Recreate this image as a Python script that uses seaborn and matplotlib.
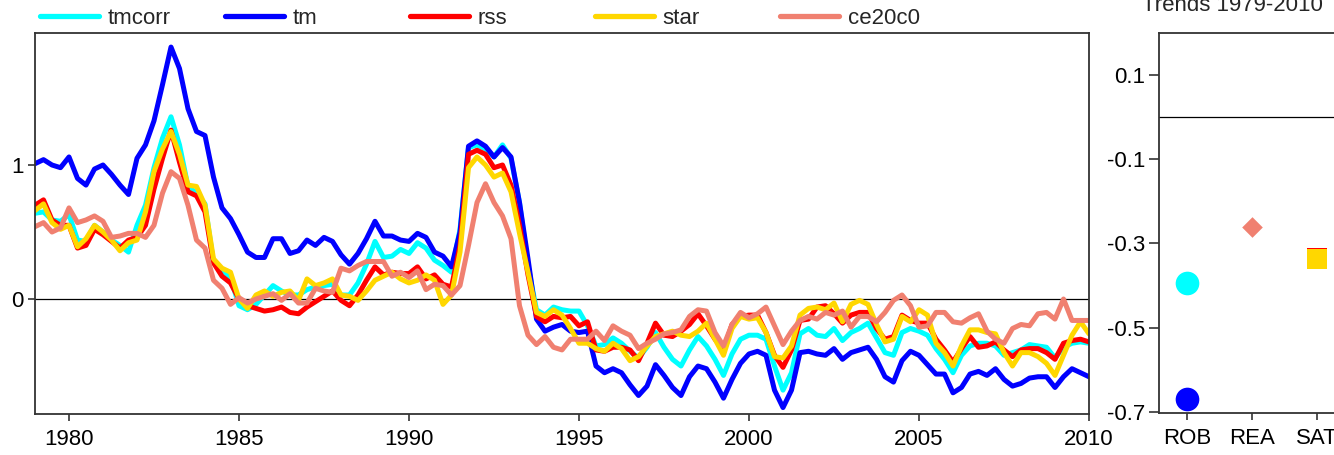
import numpy as np
import pandas as pd
import matplotlib
matplotlib.use('Agg')
import matplotlib.pyplot as plt
import seaborn as sns
from matplotlib.lines import Line2D

# quarterly time axis 1979.0 .. 2010.0
years = 1979 + 0.25 * np.arange(125)

tmcorr = [0.64, 0.65, 0.59, 0.58, 0.63, 0.44, 0.43, 0.55, 0.50, 0.44, 0.40, 0.35,
          0.55, 0.70, 0.98, 1.20, 1.36, 1.15, 0.84, 0.79, 0.71, 0.27, 0.22, 0.16,
          -0.05, -0.08, -0.04, 0.03, 0.10, 0.06, 0.03, 0.03, 0.07, 0.09, 0.10, 0.11,
          0.03, 0.03, 0.12, 0.26, 0.43, 0.31, 0.32, 0.37, 0.34, 0.42, 0.38, 0.29,
          0.25, 0.20, 0.52, 1.13, 1.15, 1.12, 1.06, 1.15, 1.05, 0.72, 0.25, -0.08,
          -0.12, -0.06, -0.08, -0.09, -0.09, -0.20, -0.35, -0.34, -0.29, -0.33, -0.39, -0.44,
          -0.36, -0.25, -0.36, -0.45, -0.50, -0.38, -0.28, -0.35, -0.45, -0.57, -0.41, -0.30,
          -0.27, -0.27, -0.30, -0.50, -0.68, -0.55, -0.26, -0.22, -0.27, -0.28, -0.22, -0.31,
          -0.25, -0.22, -0.18, -0.29, -0.40, -0.42, -0.25, -0.22, -0.24, -0.27, -0.37, -0.45,
          -0.55, -0.42, -0.35, -0.33, -0.33, -0.35, -0.42, -0.40, -0.38, -0.34, -0.35, -0.36,
          -0.44, -0.36, -0.33, -0.32, -0.33]

tm = [1.01, 1.04, 1.00, 0.98, 1.06, 0.90, 0.85, 0.97, 1.00, 0.93, 0.85, 0.78,
      1.05, 1.15, 1.33, 1.60, 1.88, 1.72, 1.42, 1.25, 1.22, 0.91, 0.68, 0.60,
      0.48, 0.35, 0.31, 0.31, 0.45, 0.45, 0.34, 0.36, 0.44, 0.40, 0.46, 0.43,
      0.33, 0.26, 0.34, 0.45, 0.58, 0.47, 0.47, 0.44, 0.43, 0.49, 0.46, 0.35,
      0.32, 0.24, 0.50, 1.14, 1.18, 1.14, 1.06, 1.13, 1.06, 0.72, 0.30, -0.15,
      -0.24, -0.21, -0.19, -0.24, -0.25, -0.24, -0.50, -0.55, -0.52, -0.55, -0.64, -0.72,
      -0.65, -0.49, -0.57, -0.66, -0.72, -0.58, -0.50, -0.52, -0.62, -0.74, -0.60, -0.48,
      -0.41, -0.39, -0.42, -0.68, -0.81, -0.68, -0.40, -0.39, -0.41, -0.42, -0.37, -0.45,
      -0.40, -0.38, -0.36, -0.45, -0.58, -0.62, -0.46, -0.39, -0.42, -0.49, -0.56, -0.56,
      -0.70, -0.66, -0.56, -0.54, -0.57, -0.52, -0.60, -0.65, -0.63, -0.59, -0.58, -0.58,
      -0.66, -0.58, -0.52, -0.55, -0.58]

rss = [0.70, 0.74, 0.59, 0.55, 0.55, 0.38, 0.40, 0.52, 0.48, 0.43, 0.38, 0.44,
       0.46, 0.55, 0.82, 1.05, 1.26, 1.02, 0.80, 0.77, 0.65, 0.27, 0.17, 0.12,
       0.00, -0.05, -0.07, -0.09, -0.08, -0.06, -0.10, -0.11, -0.06, -0.02, 0.02, 0.06,
       -0.01, -0.05, 0.03, 0.14, 0.24, 0.18, 0.20, 0.19, 0.19, 0.24, 0.15, 0.18,
       0.11, 0.09, 0.40, 1.08, 1.11, 1.08, 0.98, 1.00, 0.85, 0.55, 0.18, -0.13,
       -0.17, -0.13, -0.14, -0.13, -0.20, -0.17, -0.38, -0.39, -0.36, -0.36, -0.38, -0.46,
       -0.33, -0.18, -0.27, -0.28, -0.24, -0.19, -0.11, -0.20, -0.30, -0.38, -0.19, -0.13,
       -0.12, -0.12, -0.25, -0.42, -0.51, -0.38, -0.16, -0.15, -0.06, -0.05, -0.11, -0.18,
       -0.12, -0.10, -0.10, -0.22, -0.30, -0.28, -0.12, -0.16, -0.18, -0.18, -0.30, -0.38,
       -0.47, -0.37, -0.28, -0.36, -0.35, -0.32, -0.38, -0.43, -0.38, -0.37, -0.37, -0.40,
       -0.45, -0.33, -0.31, -0.30, -0.32]

star = [0.66, 0.71, 0.57, 0.52, 0.55, 0.39, 0.45, 0.55, 0.50, 0.44, 0.36, 0.42,
        0.44, 0.65, 0.95, 1.12, 1.25, 1.08, 0.85, 0.84, 0.70, 0.30, 0.23, 0.20,
        0.00, -0.07, 0.03, 0.06, 0.02, 0.05, 0.06, -0.01, 0.15, 0.10, 0.12, 0.15,
        0.03, 0.02, -0.01, 0.06, 0.14, 0.17, 0.20, 0.15, 0.12, 0.14, 0.18, 0.14,
        -0.04, 0.03, 0.35, 0.98, 1.06, 1.00, 0.91, 0.94, 0.80, 0.49, 0.20, -0.10,
        -0.13, -0.08, -0.12, -0.22, -0.33, -0.33, -0.37, -0.39, -0.33, -0.37, -0.46, -0.43,
        -0.35, -0.28, -0.26, -0.24, -0.27, -0.28, -0.24, -0.18, -0.30, -0.42, -0.22, -0.13,
        -0.15, -0.14, -0.25, -0.43, -0.44, -0.35, -0.12, -0.07, -0.06, -0.08, -0.03, -0.17,
        -0.04, -0.01, -0.04, -0.19, -0.32, -0.30, -0.13, -0.17, -0.08, -0.12, -0.33, -0.40,
        -0.50, -0.35, -0.23, -0.23, -0.25, -0.26, -0.40, -0.50, -0.40, -0.40, -0.43, -0.48,
        -0.57, -0.42, -0.27, -0.17, -0.26]

ce20c0 = [0.54, 0.57, 0.50, 0.53, 0.68, 0.57, 0.59, 0.62, 0.58, 0.46, 0.47, 0.49,
          0.49, 0.46, 0.55, 0.79, 0.95, 0.90, 0.70, 0.44, 0.38, 0.14, 0.08, -0.04,
          0.01, -0.03, 0.00, 0.02, 0.04, -0.01, 0.04, -0.03, -0.03, 0.08, 0.06, 0.05,
          0.23, 0.21, 0.25, 0.28, 0.28, 0.28, 0.17, 0.20, 0.16, 0.21, 0.07, 0.11,
          0.10, 0.03, 0.10, 0.40, 0.72, 0.86, 0.72, 0.62, 0.45, -0.05, -0.27, -0.34,
          -0.28, -0.36, -0.38, -0.30, -0.30, -0.30, -0.24, -0.31, -0.20, -0.24, -0.27, -0.37,
          -0.33, -0.30, -0.26, -0.25, -0.23, -0.13, -0.08, -0.09, -0.25, -0.35, -0.19, -0.10,
          -0.14, -0.11, -0.06, -0.20, -0.34, -0.24, -0.16, -0.13, -0.15, -0.10, -0.12, -0.09,
          -0.21, -0.13, -0.13, -0.17, -0.10, -0.01, 0.03, -0.05, -0.21, -0.20, -0.10, -0.10,
          -0.17, -0.18, -0.14, -0.11, -0.24, -0.30, -0.33, -0.22, -0.19, -0.20, -0.11, -0.10,
          -0.15, 0.00, -0.16, -0.16, -0.16]

series_names = ['tmcorr', 'tm', 'rss', 'star', 'ce20c0']
colors = ['#00ffff', '#0000ff', '#ff0000', '#ffd700', '#f08070']

# trends panel
trend_cat = ['ROB', 'ROB', 'REA', 'SAT', 'SAT']
trend_src = ['tmcorr', 'tm', 'ce20c0', 'rss', 'star']
trend_val = [-0.393, -0.669, -0.262, -0.335, -0.338]
trend_marker = ['o', 'o', 'D', 's', 's']
trend_size = [290, 290, 110, 225, 225]

df = pd.DataFrame({'year': np.tile(years, 5),
                   'value': np.concatenate([tmcorr, tm, rss, star, ce20c0]),
                   'series': np.repeat(series_names, len(years))})
palette = dict(zip(series_names, colors))

sns.set_style('white')
plt.rcParams['font.family'] = ['Liberation Sans', 'DejaVu Sans']
plt.rcParams['font.size'] = 16

fig = plt.figure(figsize=(13.34, 4.55), dpi=100)
ax = fig.add_axes([35 / 1334, 41 / 455, 1054 / 1334, 381 / 455])
ax2 = fig.add_axes([1159 / 1334, 42 / 455, 186 / 1334, 380 / 455])

ax.axhline(0, color='black', lw=0.9, zorder=1)
sns.lineplot(data=df, x='year', y='value', hue='series', hue_order=series_names,
             palette=palette, lw=3.6, legend=False, ax=ax)
ax.set_xlim(1979, 2010)
ax.set_ylim(-0.858, 1.985)
ax.set_xticks([1980, 1985, 1990, 1995, 2000, 2005, 2010])
ax.set_yticks([0, 1])
ax.set_yticklabels(['0', '1'])
ax.set_xlabel('')
ax.set_ylabel('')

ax2.axhline(0, color='black', lw=0.9, zorder=1)
for i in range(len(trend_val)):
    sns.scatterplot(x=[trend_cat[i]], y=[trend_val[i]], color=palette[trend_src[i]],
                    marker=trend_marker[i], s=trend_size[i], linewidth=0, ax=ax2, zorder=3)
ax2.set_xlim(-0.43, 2.43)
ax2.set_ylim(-0.703, 0.2)
ax2.set_yticks([0.1, -0.1, -0.3, -0.5, -0.7])
ax2.set_yticklabels(['0.1', '-0.1', '-0.3', '-0.5', '-0.7'])
ax2.set_xlabel('')
ax2.set_ylabel('')
ax2.spines['right'].set_visible(False)

for a in (ax, ax2):
    for sp in a.spines.values():
        sp.set_color('#333333')
        sp.set_linewidth(1.3)
    a.tick_params(direction='out', length=5, width=1.2, color='#333333',
                  labelsize=16, labelcolor='black', bottom=True, left=True)
    a.tick_params(axis='x', pad=6)
    a.tick_params(axis='y', pad=3)
ax2.tick_params(axis='y', length=7)

fig.text(1232 / 1334, 1 - 11 / 455, 'Trends 1979-2010', ha='center', va='baseline', fontsize=16)

leg_x = [40, 225, 410, 595, 780]
for name, col, x in zip(series_names, colors, leg_x):
    h = Line2D([], [], color=col, lw=3.8)
    fig.legend(handles=[h], labels=[name], loc='center left',
               bbox_to_anchor=(x / 1334, 1 - 18 / 455), frameon=False,
               handlelength=2.65, handletextpad=0.4, borderpad=0, borderaxespad=0,
               fontsize=16)

fig.savefig('out.png', dpi=100)
